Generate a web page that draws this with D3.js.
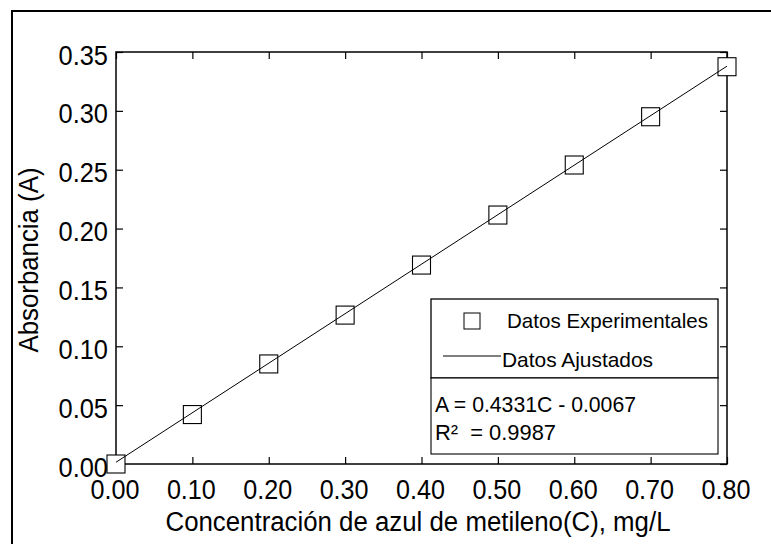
<!DOCTYPE html>
<html>
<head>
<meta charset="utf-8">
<script src="https://cdn.jsdelivr.net/npm/d3@7"></script>
<style>
  html, body { margin: 0; padding: 0; background: #fff; }
  svg { display: block; font-family: "Liberation Sans", Arial, sans-serif; }
</style>
</head>
<body>
<svg id="chart" width="771" height="544"></svg>
<script>
// ---- data ----
const concentrations = [0.00, 0.10, 0.20, 0.30, 0.40, 0.50, 0.60, 0.70, 0.80];
const absorbance     = [0.000, 0.042, 0.085, 0.1265, 0.169, 0.2115, 0.254, 0.295, 0.3375];
const fitX = [0.00, 0.80];
const fitY = [0.0015, 0.338];
const xTicks = [0.00, 0.10, 0.20, 0.30, 0.40, 0.50, 0.60, 0.70, 0.80];
const yTicks = [0.00, 0.05, 0.10, 0.15, 0.20, 0.25, 0.30, 0.35];
const xTitle = "Concentración de azul de metileno(C), mg/L";
const yTitle = "Absorbancia (A)";
const legendLabels = ["Datos Experimentales", "Datos Ajustados"];
const equationLines = ["A = 0.4331C - 0.0067", "R\u00B2  = 0.9987"];

// ---- layout ----
const svg = d3.select("#chart");
const L = 116, R = 727, T = 52, B = 464;
const x = d3.scaleLinear().domain([0, 0.8]).range([L, R]);
const y = d3.scaleLinear().domain([0, 0.35]).range([B, T]);
const fmt = d3.format(".2f");

// outer frame (right/bottom edges are cut off in the reference)
svg.append("rect").attr("x", 12).attr("y", 11).attr("width", 820).attr("height", 600)
  .attr("fill", "none").attr("stroke", "#000").attr("stroke-width", 2);

// tick marks via axes (inward)
function styleAxis(g) {
  g.select(".domain").remove();
  g.selectAll("text").remove();
  g.selectAll("line").attr("stroke", "#000").attr("stroke-width", 1.2);
}
svg.append("g").attr("transform", `translate(0,${B})`)
  .call(d3.axisBottom(x).tickValues(xTicks).tickSize(-7).tickSizeOuter(0)).call(styleAxis);
svg.append("g").attr("transform", `translate(0,${T})`)
  .call(d3.axisTop(x).tickValues(xTicks).tickSize(-7).tickSizeOuter(0)).call(styleAxis);
svg.append("g").attr("transform", `translate(${L},0)`)
  .call(d3.axisLeft(y).tickValues(yTicks).tickSize(-7).tickSizeOuter(0)).call(styleAxis);
svg.append("g").attr("transform", `translate(${R},0)`)
  .call(d3.axisRight(y).tickValues(yTicks).tickSize(-7).tickSizeOuter(0)).call(styleAxis);

// plot frame
svg.append("rect").attr("x", L).attr("y", T).attr("width", R - L).attr("height", B - T)
  .attr("fill", "none").attr("stroke", "#000").attr("stroke-width", 1.5);

// markers
const S = 18;
svg.append("g").selectAll("rect").data(concentrations).join("rect")
  .attr("x", (d) => x(d) - S / 2)
  .attr("y", (d, i) => y(absorbance[i]) - S / 2)
  .attr("width", S).attr("height", S)
  .attr("fill", "#fff").attr("stroke", "#000").attr("stroke-width", 1.1);

// fitted line
const line = d3.line().x((d) => x(d[0])).y((d) => y(d[1]));
svg.append("path").datum(fitX.map((v, i) => [v, fitY[i]]))
  .attr("d", line).attr("fill", "none").attr("stroke", "#000").attr("stroke-width", 1);

// tick labels (condensed, tall glyphs as in the reference)
svg.append("g").selectAll("text").data(xTicks).join("text")
  .attr("x", (d) => x(d) - 1).attr("y", 498.5)
  .attr("text-anchor", "middle").attr("font-size", 27.5)
  .attr("textLength", 49).attr("lengthAdjust", "spacingAndGlyphs").text(fmt);
svg.append("g").selectAll("text").data(yTicks).join("text")
  .attr("x", 108).attr("y", (d) => y(d) + 12.5)
  .attr("text-anchor", "end").attr("font-size", 27.5)
  .attr("textLength", 49.5).attr("lengthAdjust", "spacingAndGlyphs").text(fmt);

// axis titles
svg.append("text").attr("x", 418).attr("y", 531).attr("text-anchor", "middle")
  .attr("font-size", 27).attr("textLength", 505).attr("lengthAdjust", "spacingAndGlyphs")
  .text(xTitle);
svg.append("text").attr("transform", `translate(38,${(T + B) / 2 + 2}) rotate(-90)`)
  .attr("text-anchor", "middle").attr("font-size", 27)
  .attr("textLength", 185).attr("lengthAdjust", "spacingAndGlyphs").text(yTitle);

// legend box
const lg = svg.append("g");
lg.append("rect").attr("x", 431).attr("y", 299).attr("width", 287).attr("height", 79)
  .attr("fill", "#fff").attr("stroke", "#000").attr("stroke-width", 1.3);
lg.append("rect").attr("x", 431).attr("y", 378).attr("width", 287).attr("height", 76)
  .attr("fill", "#fff").attr("stroke", "#000").attr("stroke-width", 1.1);
lg.append("rect").attr("x", 464).attr("y", 313).attr("width", 16).attr("height", 16)
  .attr("fill", "#fff").attr("stroke", "#000").attr("stroke-width", 1);
lg.append("line").attr("x1", 443).attr("x2", 501).attr("y1", 356).attr("y2", 356)
  .attr("stroke", "#000").attr("stroke-width", 1);
lg.append("text").attr("x", 507).attr("y", 328).attr("font-size", 21)
  .attr("textLength", 201).attr("lengthAdjust", "spacingAndGlyphs").text(legendLabels[0]);
lg.append("text").attr("x", 502).attr("y", 367).attr("font-size", 21)
  .attr("textLength", 151).attr("lengthAdjust", "spacingAndGlyphs").text(legendLabels[1]);
lg.append("text").attr("x", 435).attr("y", 411.5).attr("font-size", 21.5)
  .attr("textLength", 201).attr("lengthAdjust", "spacingAndGlyphs").text(equationLines[0]);
lg.append("text").attr("x", 435).attr("y", 440).attr("font-size", 21.5)
  .attr("xml:space", "preserve").style("white-space", "pre")
  .attr("textLength", 121).attr("lengthAdjust", "spacingAndGlyphs").text(equationLines[1]);
</script>
</body>
</html>
